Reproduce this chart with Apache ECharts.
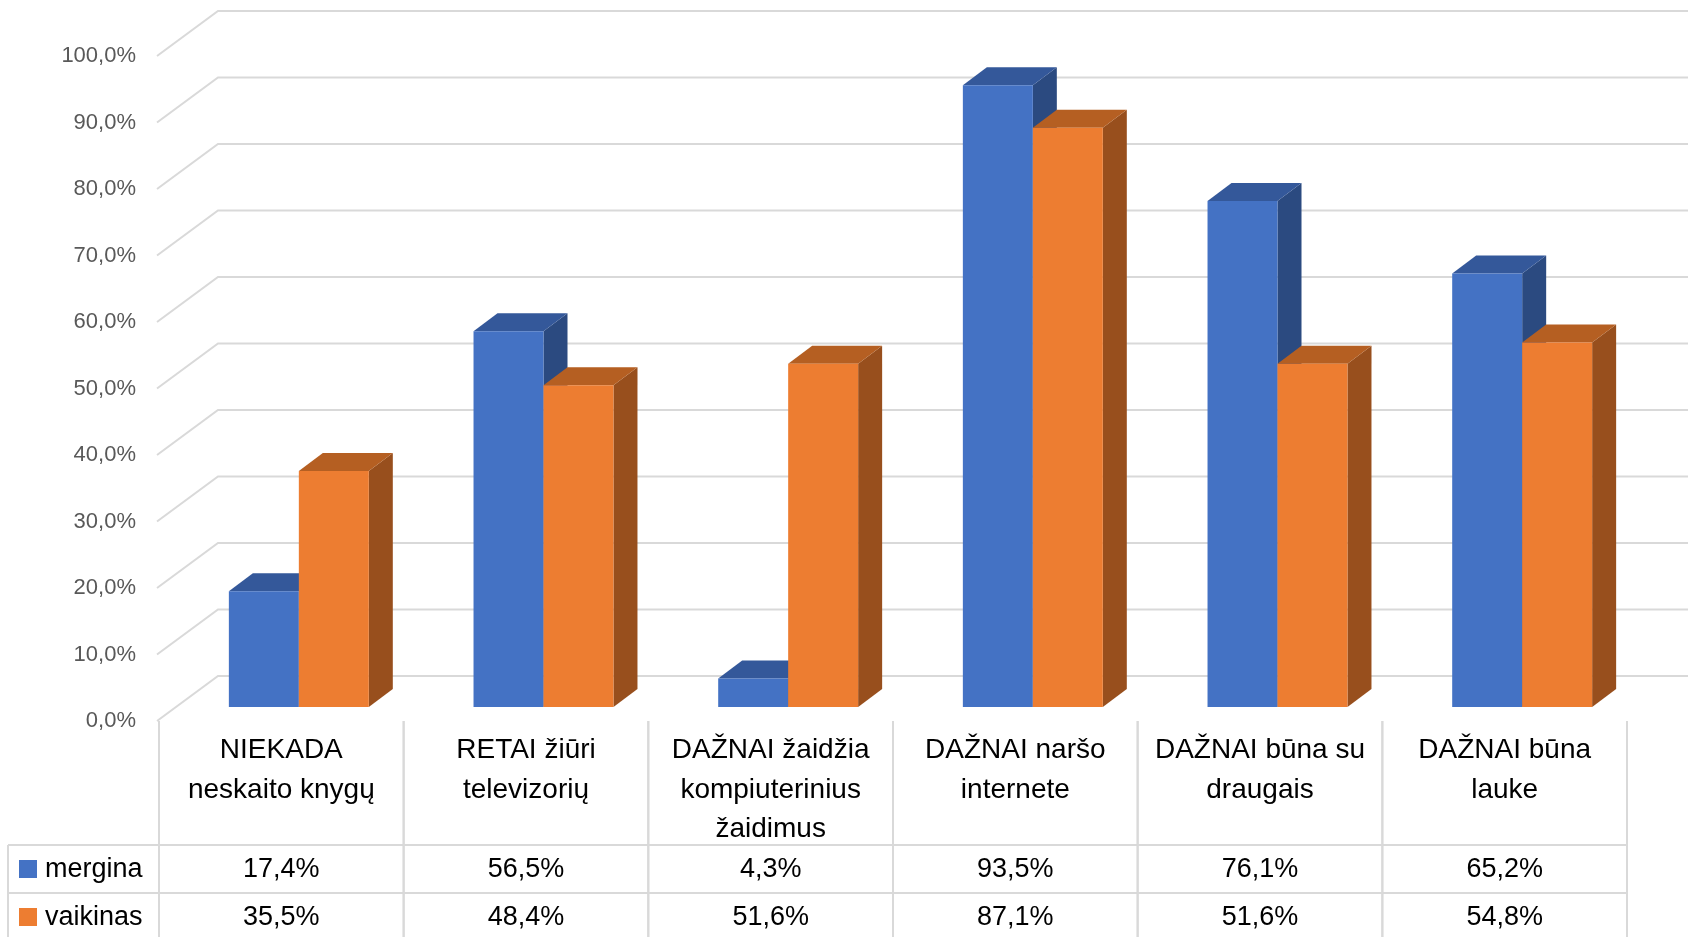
<!DOCTYPE html>
<html>
<head>
<meta charset="utf-8">
<title>chart</title>
<script src="https://cdn.jsdelivr.net/npm/echarts@6/dist/echarts.min.js"></script>
<style>
html, body { margin: 0; padding: 0; background: #fff; }
#main { width: 1692px; height: 937px; }
</style>
</head>
<body>
<div id="main"></div>
<script>
var categories = [
  'NIEKADA\nneskaito knygų',
  'RETAI žiūri\ntelevizorių',
  'DAŽNAI žaidžia\nkompiuterinius\nžaidimus',
  'DAŽNAI naršo\ninternete',
  'DAŽNAI būna su\ndraugais',
  'DAŽNAI būna\nlauke'
];
var mergina = [17.4, 56.5, 4.3, 93.5, 76.1, 65.2];
var vaikinas = [35.5, 48.4, 51.6, 87.1, 51.6, 54.8];
var seriesNames = ['mergina', 'vaikinas'];
var yTicks = [0, 10, 20, 30, 40, 50, 60, 70, 80, 90, 100];

var FONT = '"Liberation Sans", Arial, sans-serif';
var GRID_C = '#D9D9D9';
// oblique 3d offsets (px)
var WALL = [61, -45];      // front plane -> back wall
var BAR_SHIFT = [17.5, -14]; // front plane -> bar front faces
var BAR_DEPTH = [24, -18];
var BAR_FRAC = 0.286;
var faces = [
  { front: '#4472C4', top: '#34589A', side: '#2B4A80' },
  { front: '#ED7D31', top: '#B55F22', side: '#984F1D' }
];

function fmt(v) {
  return v.toFixed(1).replace('.', ',') + '%';
}

function renderGridLine(params, api) {
  var cs = params.coordSys;
  var y = api.coord([0, api.value(1)])[1];
  var x = cs.x - 2;
  return {
    type: 'polyline',
    silent: true,
    shape: { points: [[x, y], [x + WALL[0], y + WALL[1]], [cs.x + cs.width + WALL[0], y + WALL[1]]] },
    style: { stroke: GRID_C, lineWidth: 2, fill: null }
  };
}

function makeBar(k) {
  var col = faces[k];
  return function (params, api) {
    var i = api.value(0), v = api.value(1);
    var bw = api.size([1, 0])[0] * BAR_FRAC;
    var top = api.coord([i, v]), base = api.coord([i, 0]);
    var x0 = top[0] + BAR_SHIFT[0] + (k === 0 ? -bw : 0);
    var x1 = x0 + bw;
    var yt = top[1] + BAR_SHIFT[1], yb = base[1] + BAR_SHIFT[1];
    var dx = BAR_DEPTH[0], dy = BAR_DEPTH[1];
    return {
      type: 'group',
      children: [
        { type: 'polygon', shape: { points: [[x1, yt], [x1 + dx, yt + dy], [x1 + dx, yb + dy], [x1, yb]] }, style: { fill: col.side } },
        { type: 'polygon', shape: { points: [[x0, yt], [x1, yt], [x1 + dx, yt + dy], [x0 + dx, yt + dy]] }, style: { fill: col.top } },
        { type: 'rect', shape: { x: x0, y: yt, width: bw, height: yb - yt }, style: { fill: col.front } }
      ]
    };
  };
}

function txt(s, x, y, align) {
  return {
    type: 'text', x: x, y: y,
    style: {
      text: s, fill: '#000', fontSize: 27, fontFamily: FONT,
      align: align, textAlign: align, verticalAlign: 'middle', textVerticalAlign: 'middle'
    }
  };
}

function vline(x, y1, y2) {
  return { type: 'line', shape: { x1: x, y1: y1, x2: x, y2: y2 }, style: { stroke: GRID_C, lineWidth: 2 } };
}

function hline(y, x1, x2) {
  return { type: 'line', shape: { x1: x1, y1: y, x2: x2, y2: y }, style: { stroke: GRID_C, lineWidth: 2 } };
}

function renderTable(params, api) {
  var cs = params.coordSys;
  var i = api.value(0);
  var band = api.size([1, 0])[0];
  var cx = api.coord([i, 0])[0];
  var yb = cs.y + cs.height;
  var bottom = 940;
  var row1 = yb + 149, row2 = yb + 197;
  var children = [
    vline(cx - band / 2, yb, bottom),
    vline(cx + band / 2, yb, bottom),
    txt(fmt(api.value(1)), cx, row1, 'center'),
    txt(fmt(api.value(2)), cx, row2, 'center')
  ];
  if (i === 0) {
    var left = 8, right = cs.x + cs.width;
    children.push(hline(yb + 124, left, right));
    children.push(hline(yb + 172, left, right));
    children.push(vline(left, yb + 124, bottom));
    [row1, row2].forEach(function (ry, k) {
      children.push({ type: 'rect', shape: { x: 19, y: ry - 10, width: 18, height: 18 }, style: { fill: faces[k].front } });
      children.push(txt(seriesNames[k], 45, ry, 'left'));
    });
  }
  return { type: 'group', children: children };
}

var chart = echarts.init(document.getElementById('main'));
var option = {
  animation: false,
  backgroundColor: '#fff',
  grid: { left: 159, right: 65, top: 56, bottom: 216 },
  xAxis: {
    type: 'category',
    data: categories,
    axisLine: { show: false },
    axisTick: { show: false },
    splitLine: { show: false },
    axisLabel: { interval: 0, margin: 10, color: '#000', fontSize: 28, lineHeight: 39.5, fontFamily: FONT }
  },
  yAxis: {
    type: 'value',
    min: 0,
    max: 100,
    interval: 10,
    axisLine: { show: false },
    axisTick: { show: false },
    splitLine: { show: false },
    axisLabel: { margin: 23, color: '#595959', fontSize: 22, fontFamily: FONT, padding: [4, 0, 0, 0], formatter: fmt }
  },
  series: [
    {
      type: 'custom', name: 'grid', silent: true, clip: false, z: 1,
      renderItem: renderGridLine,
      data: yTicks.map(function (v) { return [0, v]; })
    },
    {
      type: 'custom', name: seriesNames[0], silent: true, clip: false, z: 3,
      renderItem: makeBar(0),
      data: mergina.map(function (v, i) { return [i, v]; })
    },
    {
      type: 'custom', name: seriesNames[1], silent: true, clip: false, z: 4,
      renderItem: makeBar(1),
      data: vaikinas.map(function (v, i) { return [i, v]; })
    },
    {
      type: 'custom', name: 'table', silent: true, clip: false, z: 2,
      renderItem: renderTable,
      data: categories.map(function (c, i) { return [i, mergina[i], vaikinas[i]]; })
    }
  ]
};
chart.setOption(option);
window.addEventListener('resize', function () {
  chart.resize();
});
</script>
</body>
</html>
